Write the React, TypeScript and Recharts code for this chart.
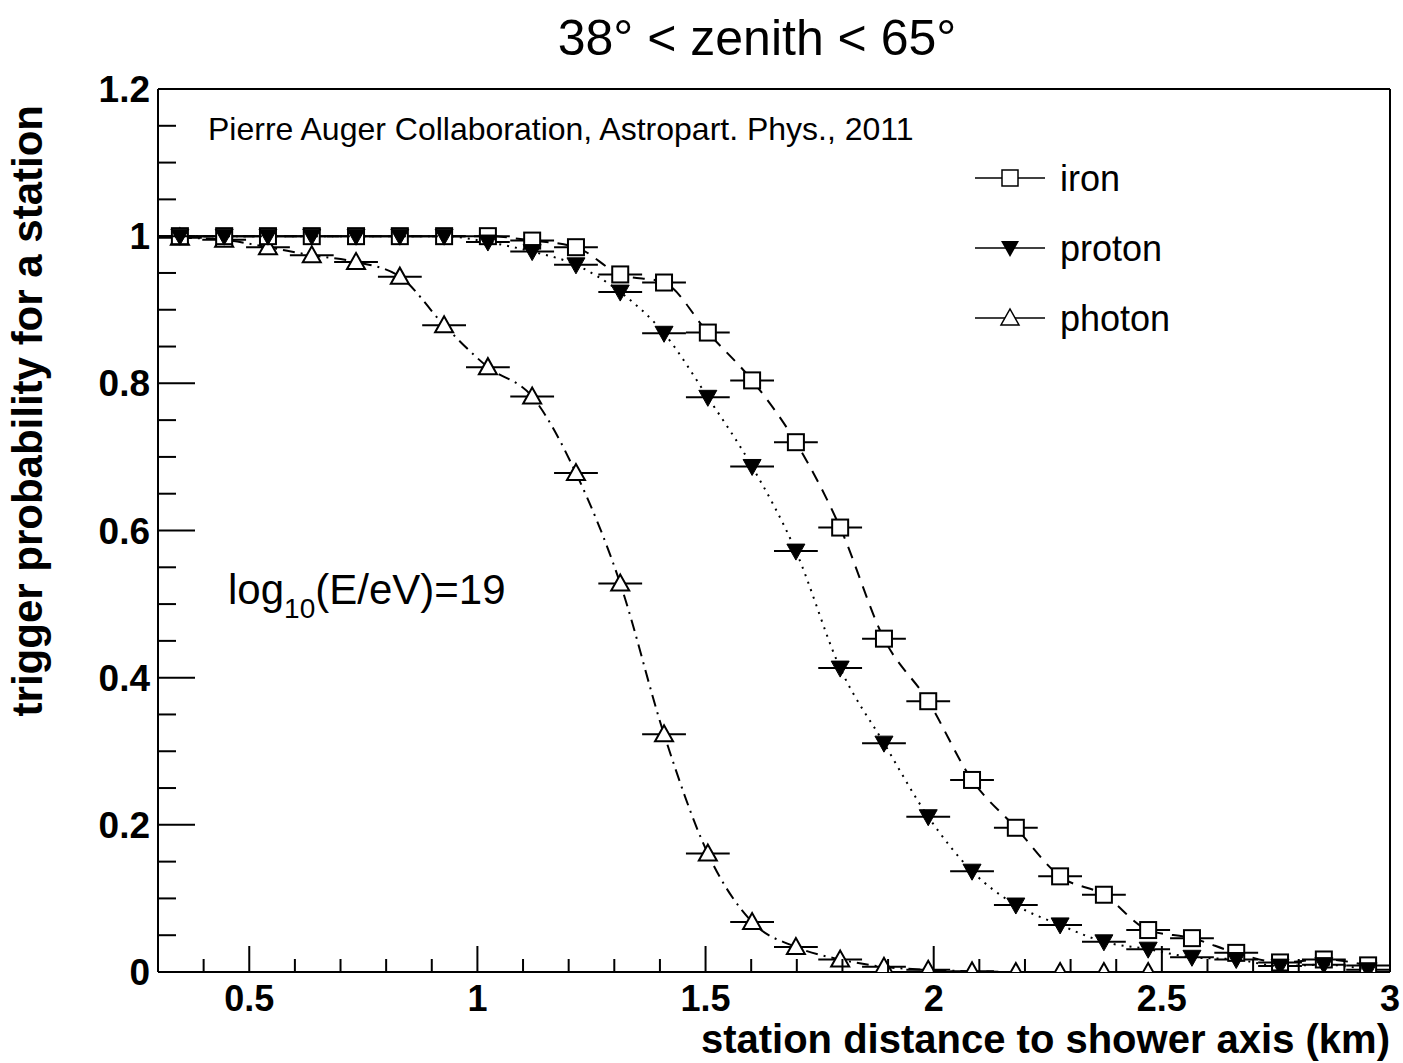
import React from "react";
import { ScatterChart, Scatter, XAxis, YAxis, ErrorBar, ReferenceLine } from "recharts";

// bin centres (km) and half bin width
const distance = [0.348, 0.445, 0.541, 0.637, 0.734, 0.83, 0.927, 1.023, 1.12, 1.216, 1.313, 1.409, 1.505, 1.602, 1.698, 1.795, 1.891, 1.988, 2.084, 2.18, 2.277, 2.373, 2.47, 2.566, 2.663, 2.759, 2.855, 2.952];
const binHalfWidth = 0.048;

const iron = [1.0, 1.0, 1.0, 1.0, 1.0, 1.0, 1.0, 1.0, 0.994, 0.985, 0.948, 0.937, 0.869, 0.804, 0.72, 0.604, 0.453, 0.368, 0.261, 0.196, 0.13, 0.105, 0.057, 0.046, 0.026, 0.013, 0.017, 0.009];
const proton = [1.0, 1.0, 1.0, 1.0, 1.0, 1.0, 1.0, 0.992, 0.979, 0.961, 0.924, 0.868, 0.781, 0.687, 0.572, 0.413, 0.311, 0.211, 0.137, 0.091, 0.064, 0.041, 0.031, 0.02, 0.017, 0.008, 0.01, 0.003];
const photon = [0.998, 0.995, 0.985, 0.974, 0.965, 0.945, 0.879, 0.822, 0.782, 0.678, 0.528, 0.323, 0.161, 0.068, 0.034, 0.017, 0.007, 0.003, 0.001, 0.0, 0.0, 0.0, 0.0];

const xTicks = [0.4, 0.5, 0.6, 0.7, 0.8, 0.9, 1.0, 1.1, 1.2, 1.3, 1.4, 1.5, 1.6, 1.7, 1.8, 1.9, 2.0, 2.1, 2.2, 2.3, 2.4, 2.5, 2.6, 2.7, 2.8, 2.9, 3.0];
const xMajor = [0.5, 1, 1.5, 2, 2.5, 3];
const xTickLabels = ["0.5", "1", "1.5", "2", "2.5", "3"];
const yTicks = [0, 0.05, 0.1, 0.15, 0.2, 0.25, 0.3, 0.35, 0.4, 0.45, 0.5, 0.55, 0.6, 0.65, 0.7, 0.75, 0.8, 0.85, 0.9, 0.95, 1.0, 1.05, 1.1, 1.15, 1.2];
const yMajor = [0, 0.2, 0.4, 0.6, 0.8, 1, 1.2];
const yTickLabels = ["0", "0.2", "0.4", "0.6", "0.8", "1", "1.2"];

const toPoints = (vals: number[]) => vals.map((y, i) => ({ x: distance[i], y, ex: binHalfWidth }));
const ironData = toPoints(iron);
const protonData = toPoints(proton);
const photonData = toPoints(photon);

const FONT = "'Liberation Sans', Arial, Helvetica, sans-serif";

const majorIndex = (list: number[], v: number) => list.findIndex((m) => Math.abs(m - v) < 1e-6);

const XTick = (props: any) => {
  const { x, y, payload } = props;
  const idx = majorIndex(xMajor, payload.value);
  return (
    <g>
      <line x1={x} x2={x} y1={y} y2={y - (idx >= 0 ? 26 : 13)} stroke="#000" strokeWidth={2} />
      {idx >= 0 && (
        <text x={x} y={y + 39} textAnchor="middle" fontSize={36} fontWeight="bold" fontFamily={FONT} fill="#000">
          {xTickLabels[idx]}
        </text>
      )}
    </g>
  );
};

const YTick = (props: any) => {
  const { x, y, payload } = props;
  const idx = majorIndex(yMajor, payload.value);
  return (
    <g>
      <line x1={x} x2={x + (idx >= 0 ? 37 : 18)} y1={y} y2={y} stroke="#000" strokeWidth={2} />
      {idx >= 0 && (
        <text x={x - 8} y={y + 13} textAnchor="end" fontSize={37} fontWeight="bold" fontFamily={FONT} fill="#000">
          {yTickLabels[idx]}
        </text>
      )}
    </g>
  );
};

const Square = (props: any) => {
  const { cx, cy } = props;
  return <rect x={cx - 8} y={cy - 8} width={16} height={16} fill="#fff" stroke="#000" strokeWidth={2} />;
};
const DownTriangle = (props: any) => {
  const { cx, cy } = props;
  return <polygon points={`${cx - 9},${cy - 7} ${cx + 9},${cy - 7} ${cx},${cy + 9}`} fill="#000" stroke="#000" strokeWidth={1} />;
};
const UpTriangle = (props: any) => {
  const { cx, cy } = props;
  return <polygon points={`${cx - 9},${cy + 7} ${cx + 9},${cy + 7} ${cx},${cy - 9}`} fill="#fff" stroke="#000" strokeWidth={2} />;
};

const legendItems = [
  { label: "iron", y: 178, marker: "square" },
  { label: "proton", y: 248, marker: "down" },
  { label: "photon", y: 318, marker: "up" },
];

function Overlay() {
  return (
    <svg width={1403} height={1063} style={{ position: "absolute", left: 0, top: 0, pointerEvents: "none" }}>
      <text x={757} y={55} textAnchor="middle" fontSize={50} fontFamily={FONT} fill="#000">
        38° &lt; zenith &lt; 65°
      </text>
      <text x={208} y={140} fontSize={32} fontFamily={FONT} fill="#000">
        Pierre Auger Collaboration, Astropart. Phys., 2011
      </text>
      <text x={228} y={604} fontSize={42} fontFamily={FONT} fill="#000">
        log<tspan fontSize={28} dy={14}>10</tspan>
        <tspan dy={-14}>(E/eV)=19</tspan>
      </text>
      <text x={1390} y={1053} textAnchor="end" fontSize={40} fontWeight="bold" fontFamily={FONT} fill="#000">
        station distance to shower axis (km)
      </text>
      <text x={42} y={105} textAnchor="end" fontSize={42} fontWeight="bold" fontFamily={FONT} fill="#000" transform="rotate(-90 42 105)">
        trigger probability for a station
      </text>
      {legendItems.map((it) => (
        <g key={it.label}>
          <line x1={975} x2={1045} y1={it.y} y2={it.y} stroke="#000" strokeWidth={1.5} />
          {it.marker === "square" && <rect x={1002} y={it.y - 8} width={16} height={16} fill="#fff" stroke="#000" strokeWidth={1.5} />}
          {it.marker === "down" && <polygon points={`1001,${it.y - 7} 1019,${it.y - 7} 1010,${it.y + 9}`} fill="#000" />}
          {it.marker === "up" && <polygon points={`1001,${it.y + 7} 1019,${it.y + 7} 1010,${it.y - 9}`} fill="#fff" stroke="#000" strokeWidth={1.5} />}
          <text x={1060} y={it.y + 13} fontSize={36} fontFamily={FONT} fill="#000">
            {it.label}
          </text>
        </g>
      ))}
    </svg>
  );
}

export default function App() {
  return (
    <div style={{ position: "absolute", left: 0, top: 0, width: 1403, height: 1063, background: "#fff" }}>
      <ScatterChart width={1403} height={1063} margin={{ top: 89, right: 13, bottom: 31, left: 58 }}>
        <XAxis
          type="number"
          dataKey="x"
          domain={[0.3, 3]}
          ticks={xTicks}
          interval={0}
          allowDataOverflow
          height={60}
          tickSize={0}
          tickMargin={0}
          tickLine={false}
          axisLine={{ stroke: "#000", strokeWidth: 2 }}
          tick={<XTick />}
        />
        <YAxis
          type="number"
          dataKey="y"
          domain={[0, 1.2]}
          ticks={yTicks}
          interval={0}
          allowDataOverflow
          width={100}
          tickSize={0}
          tickMargin={0}
          tickLine={false}
          axisLine={{ stroke: "#000", strokeWidth: 2 }}
          tick={<YTick />}
        />
        <ReferenceLine y={1.2} stroke="#000" strokeWidth={2} />
        <ReferenceLine x={3} stroke="#000" strokeWidth={2} />
        <Scatter
          name="photon"
          data={photonData}
          line={{ stroke: "#000", strokeWidth: 2, strokeDasharray: "12 6 2 6" }}
          lineJointType="monotoneX"
          shape={<UpTriangle />}
          isAnimationActive={false}
        >
          <ErrorBar dataKey="ex" direction="x" width={0} stroke="#000" strokeWidth={2} />
        </Scatter>
        <Scatter
          name="iron"
          data={ironData}
          line={{ stroke: "#000", strokeWidth: 2, strokeDasharray: "12 9" }}
          lineJointType="monotoneX"
          shape={<Square />}
          isAnimationActive={false}
        >
          <ErrorBar dataKey="ex" direction="x" width={0} stroke="#000" strokeWidth={2} />
        </Scatter>
        <Scatter
          name="proton"
          data={protonData}
          line={{ stroke: "#000", strokeWidth: 2, strokeDasharray: "2 6" }}
          lineJointType="monotoneX"
          shape={<DownTriangle />}
          isAnimationActive={false}
        >
          <ErrorBar dataKey="ex" direction="x" width={0} stroke="#000" strokeWidth={2} />
        </Scatter>
      </ScatterChart>
      <Overlay />
    </div>
  );
}
